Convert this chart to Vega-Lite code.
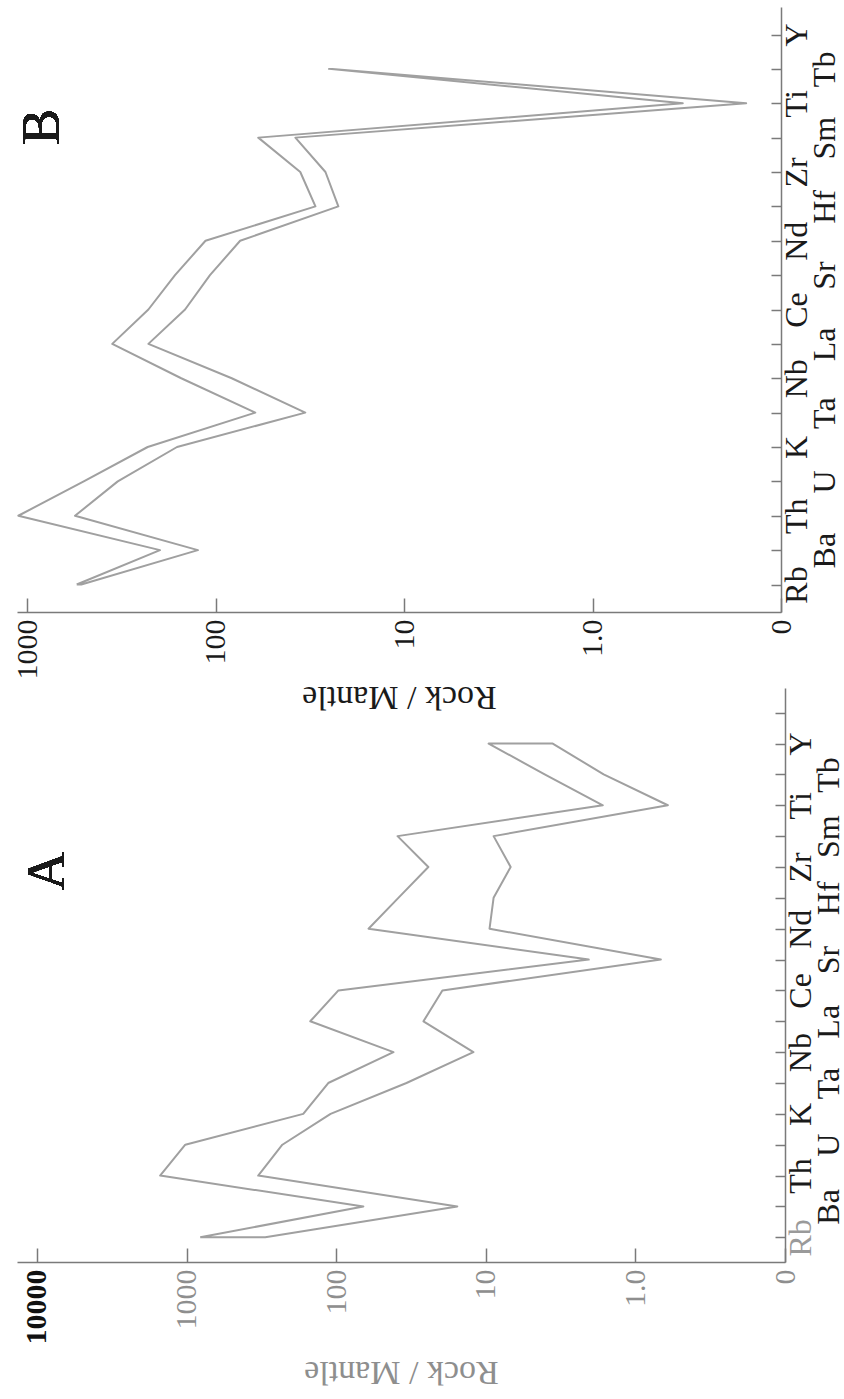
{
  "$schema": "https://vega.github.io/schema/vega-lite/v6.json",
  "padding": {"left": 12, "top": 7, "right": 2, "bottom": 2},
  "autosize": "pad",
  "bounds": "flush",
  "spacing": 76,
  "config": {
    "view": {"stroke": null},
    "font": "Liberation Serif",
    "axis": {
      "domainColor": "#7a7a7a", "domainWidth": 1.5,
      "tickColor": "#7a7a7a", "tickWidth": 1.5,
      "grid": false,
      "labelFont": "Liberation Serif", "titleFont": "Liberation Serif"
    }
  },
  "datasets": {
    "B": [
      {"i": 0, "element": "Rb", "value": 545},
      {"i": 1, "element": "Ba", "value": 197},
      {"i": 2, "element": "Th", "value": 1112},
      {"i": 3, "element": "U", "value": 500},
      {"i": 4, "element": "K", "value": 229},
      {"i": 5, "element": "Ta", "value": 61.5},
      {"i": 6, "element": "Nb", "value": 152},
      {"i": 7, "element": "La", "value": 353},
      {"i": 8, "element": "Ce", "value": 227},
      {"i": 9, "element": "Sr", "value": 164},
      {"i": 10, "element": "Nd", "value": 113},
      {"i": 11, "element": "Hf", "value": 29.5},
      {"i": 12, "element": "Zr", "value": 35.5},
      {"i": 13, "element": "Sm", "value": 59.3},
      {"i": 14, "element": "Ti", "value": 0.332},
      {"i": 15, "element": "Tb", "value": 25},
      {"i": 16, "element": "Tb", "value": 24},
      {"i": 17, "element": "Ti", "value": 0.153},
      {"i": 18, "element": "Sm", "value": 37.7},
      {"i": 19, "element": "Zr", "value": 26.1},
      {"i": 20, "element": "Hf", "value": 22.3},
      {"i": 21, "element": "Nd", "value": 74},
      {"i": 22, "element": "Sr", "value": 107},
      {"i": 23, "element": "Ce", "value": 145},
      {"i": 24, "element": "La", "value": 227},
      {"i": 25, "element": "Nb", "value": 82},
      {"i": 26, "element": "Ta", "value": 33.4},
      {"i": 27, "element": "K", "value": 160},
      {"i": 28, "element": "U", "value": 330},
      {"i": 29, "element": "Th", "value": 556},
      {"i": 30, "element": "Ba", "value": 124},
      {"i": 31, "element": "Rb", "value": 515},
      {"i": 32, "element": "Rb", "value": 545}
    ],
    "A": [
      {"i": 0, "element": "Rb", "value": 811},
      {"i": 1, "element": "Ba", "value": 65.8},
      {"i": 2, "element": "Th", "value": 1503},
      {"i": 3, "element": "U", "value": 1020},
      {"i": 4, "element": "K", "value": 166},
      {"i": 5, "element": "Ta", "value": 113},
      {"i": 6, "element": "Nb", "value": 41.4},
      {"i": 7, "element": "La", "value": 149},
      {"i": 8, "element": "Ce", "value": 96.6},
      {"i": 9, "element": "Sr", "value": 2.05},
      {"i": 10, "element": "Nd", "value": 60.8},
      {"i": 11, "element": "Hf", "value": 38.4},
      {"i": 12, "element": "Zr", "value": 24.2},
      {"i": 13, "element": "Sm", "value": 38.9},
      {"i": 14, "element": "Ti", "value": 1.65},
      {"i": 15, "element": "Tb", "value": 4.04},
      {"i": 16, "element": "Y", "value": 9.57},
      {"i": 17, "element": "Y", "value": 3.57},
      {"i": 18, "element": "Tb", "value": 1.63},
      {"i": 19, "element": "Ti", "value": 0.607},
      {"i": 20, "element": "Sm", "value": 8.87},
      {"i": 21, "element": "Zr", "value": 6.82},
      {"i": 22, "element": "Hf", "value": 8.87},
      {"i": 23, "element": "Nd", "value": 9.44},
      {"i": 24, "element": "Sr", "value": 0.676},
      {"i": 25, "element": "Ce", "value": 19.5},
      {"i": 26, "element": "La", "value": 26.1},
      {"i": 27, "element": "Nb", "value": 12.1},
      {"i": 28, "element": "Ta", "value": 33.9},
      {"i": 29, "element": "K", "value": 109},
      {"i": 30, "element": "U", "value": 229},
      {"i": 31, "element": "Th", "value": 332},
      {"i": 32, "element": "Ba", "value": 15.5},
      {"i": 33, "element": "Rb", "value": 298},
      {"i": 34, "element": "Rb", "value": 811}
    ]
  },
  "vconcat": [
    {
      "width": 764,
      "height": 605,
      "data": {"name": "B"},
      "layer": [
        {
          "mark": {"type": "line", "color": "#a0a0a0", "strokeWidth": 2, "strokeJoin": "round"},
          "encoding": {
            "y": {
              "field": "element", "type": "ordinal",
              "scale": {"type": "point", "padding": 0.8, "domain": ["Y","Tb","Ti","Sm","Zr","Hf","Nd","Sr","Ce","La","Nb","Ta","K","U","Th","Ba","Rb"]},
              "axis": {
                "orient": "right", "title": null,
                "labelAngle": -90, "labelAlign": "center", "labelBaseline": "top",
                "labelFontSize": 32, "labelLineHeight": 28, "labelPadding": 10,
                "labelColor": "#1a1a1a", "labelOverlap": false, "labelBound": false,
                "tickSize": -10,
                "labelExpr": "indexof(['Ba','U','Ta','La','Sr','Hf','Sm','Tb'], datum.value) >= 0 ? [' ', datum.value] : datum.value"
              }
            },
            "x": {
              "field": "value", "type": "quantitative",
              "scale": {"type": "log", "domain": [0.1, 1130], "reverse": true, "nice": false},
              "axis": {
                "orient": "bottom", "values": [0.1, 1, 10, 100, 1000],
                "labelExpr": "datum.value < 0.5 ? '0' : datum.value == 1 ? '1.0' : format(datum.value, 'd')",
                "labelAngle": -90, "labelFontSize": 30, "labelPadding": 21, "labelFlush": false,
                "labelColor": "#1a1a1a", "labelOverlap": false,
                "tickSize": -14,
                "title": "Rock / Mantle", "titleAngle": 180, "titleFontSize": 34,
                "titleFontWeight": "normal", "titleColor": "#1a1a1a", "titlePadding": 34
              }
            },
            "order": {"field": "i", "type": "quantitative"}
          }
        },
        {
          "mark": {"type": "text", "text": "B", "angle": 270, "fontSize": 54, "font": "Liberation Serif", "color": "#1a1a1a", "align": "center", "baseline": "middle", "yOffset": -11},
          "encoding": {
            "x": {"datum": 822},
            "y": {"datum": "Sm"}
          }
        }
      ]
    },
    {
      "width": 768,
      "height": 574,
      "data": {"name": "A"},
      "layer": [
        {
          "mark": {"type": "line", "color": "#a0a0a0", "strokeWidth": 2, "strokeJoin": "round"},
          "encoding": {
            "y": {
              "field": "element", "type": "ordinal",
              "scale": {"type": "point", "padding": 0.8, "domain": [" ","Y","Tb","Ti","Sm","Zr","Hf","Nd","Sr","Ce","La","Nb","Ta","K","U","Th","Ba","Rb"]},
              "axis": {
                "orient": "right", "title": null,
                "labelAngle": -90, "labelAlign": "center", "labelBaseline": "top",
                "labelFontSize": 32, "labelLineHeight": 28, "labelPadding": 10,
                "labelColor": {"condition": {"test": "datum.value == 'Rb'", "value": "#9a9a9a"}, "value": "#1a1a1a"},
                "labelOverlap": false, "labelBound": false,
                "tickSize": -10,
                "labelExpr": "datum.value == ' ' ? '' : indexof(['Ba','U','Ta','La','Sr','Hf','Sm','Tb'], datum.value) >= 0 ? [' ', datum.value] : datum.value"
              }
            },
            "x": {
              "field": "value", "type": "quantitative",
              "scale": {"type": "log", "domain": [0.1, 13600], "reverse": true, "nice": false},
              "axis": {
                "orient": "bottom", "values": [0.1, 1, 10, 100, 1000, 10000],
                "labelExpr": "datum.value < 0.5 ? '0' : datum.value == 1 ? '1.0' : format(datum.value, 'd')",
                "labelAngle": -90, "labelFontSize": 30, "labelPadding": 21, "labelFlush": false,
                "labelColor": {"condition": {"test": "datum.value == 10000", "value": "#111111"}, "value": "#8e8e8e"},
                "labelFontWeight": {"condition": {"test": "datum.value == 10000", "value": "bold"}, "value": "normal"},
                "labelOverlap": false,
                "tickSize": -14,
                "title": "Rock / Mantle", "titleAngle": 180, "titleFontSize": 34,
                "titleFontWeight": "normal", "titleColor": "#8e8e8e", "titlePadding": 44
              }
            },
            "order": {"field": "i", "type": "quantitative"}
          }
        },
        {
          "mark": {"type": "text", "text": "A", "angle": 270, "fontSize": 54, "font": "Liberation Serif", "color": "#1a1a1a", "align": "center", "baseline": "middle", "yOffset": 4},
          "encoding": {
            "x": {"datum": 8443},
            "y": {"datum": "Zr"}
          }
        }
      ]
    }
  ]
}
